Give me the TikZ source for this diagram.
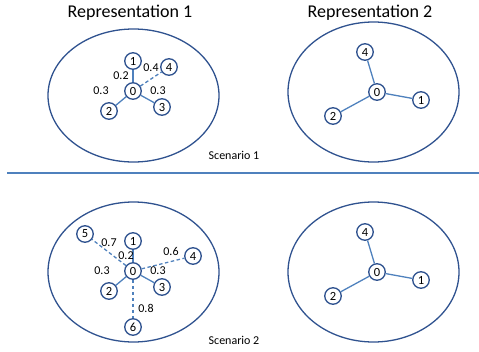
\documentclass[tikz,border=0pt]{standalone}
\usepackage{fontspec}
\setmainfont{Carlito}
\begin{document}
\begin{tikzpicture}[x=1pt,y=-1pt,
  every node/.style={font=\fontsize{12}{13}\selectfont, inner sep=0pt},
  vert/.style={circle, draw=outl, line width=1.3pt, minimum size=16.5pt, fill=white,
    font=\fontsize{12.5}{13}\selectfont},
  region/.style={draw=outl, line width=1.3pt},
  link/.style={draw=edgec, line width=1.3pt},
  weak/.style={link, dash pattern=on 3.5pt off 2.5pt},
  wlabel/.style={font=\fontsize{12}{13}\selectfont},
  title/.style={font=\fontsize{18}{20}\selectfont},
]
\definecolor{outl}{HTML}{2F528F}
\definecolor{edgec}{HTML}{4F81BD}
\useasboundingbox (0,0) rectangle (479,351);

% headings
\node[title] (t1) at (130,13) {Representation 1};
\node[title] (t2) at (370,13) {Representation 2};

% separator between the two scenarios
\draw[edgec, line width=1.8pt] (7,173) coordinate (sepL) -- (479,173) coordinate (sepR);

% ---------------- Scenario 1 ----------------
\draw[region] (133.5,95.5) ellipse [x radius=85.5, y radius=66.5];
\draw[region] (373.5,92) ellipse [x radius=85.5, y radius=70];

\node[vert] (a0) at (133,91) {0};
\node[vert] (a1) at (133,61) {1};
\node[vert] (a2) at (109,111) {2};
\node[vert] (a3) at (162,107) {3};
\node[vert] (a4) at (169,67) {4};
\draw[link] (a0) -- (a1);
\draw[link] (a0) -- (a2);
\draw[link] (a0) -- (a3);
\draw[weak] (a0) -- (a4);
\node[wlabel] (la1) at (121,76) {0.2};
\node[wlabel] (la4) at (151,68) {0.4};
\node[wlabel] (la2) at (101,91) {0.3};
\node[wlabel] (la3) at (158,91) {0.3};

\node[vert] (b0) at (377,92) {0};
\node[vert] (b1) at (421,100) {1};
\node[vert] (b2) at (333,116) {2};
\node[vert] (b4) at (365,52) {4};
\draw[link] (b0) -- (b1);
\draw[link] (b0) -- (b2);
\draw[link] (b0) -- (b4);

\node (s1) at (234,155) {Scenario 1};

% ---------------- Scenario 2 ----------------
\draw[region] (133.5,272) ellipse [x radius=85.5, y radius=70];
\draw[region] (373.5,272) ellipse [x radius=85.5, y radius=70];

\node[vert] (c0) at (133,271) {0};
\node[vert] (c1) at (133,241) {1};
\node[vert] (c2) at (109,291) {2};
\node[vert] (c3) at (162,287) {3};
\node[vert] (c4) at (193,256) {4};
\node[vert] (c5) at (85,234) {5};
\node[vert] (c6) at (133,327) {6};
\draw[link] (c0) -- (c1);
\draw[link] (c0) -- (c2);
\draw[link] (c0) -- (c3);
\draw[weak] (c0) -- (c4);
\draw[weak] (c0) -- (c5);
\draw[weak] (c0) -- (c6);
\node[wlabel] (lc5) at (109,243) {0.7};
\node[wlabel] (lc1) at (126,256) {0.2};
\node[wlabel] (lc4) at (171,251) {0.6};
\node[wlabel] (lc2) at (102,271) {0.3};
\node[wlabel] (lc3) at (158,271) {0.3};
\node[wlabel] (lc6) at (146,308) {0.8};

\node[vert] (d0) at (377,272) {0};
\node[vert] (d1) at (421,280) {1};
\node[vert] (d2) at (333,296) {2};
\node[vert] (d4) at (365,232) {4};
\draw[link] (d0) -- (d1);
\draw[link] (d0) -- (d2);
\draw[link] (d0) -- (d4);

\node (s2) at (234,340) {Scenario 2};
\end{tikzpicture}
\end{document}
